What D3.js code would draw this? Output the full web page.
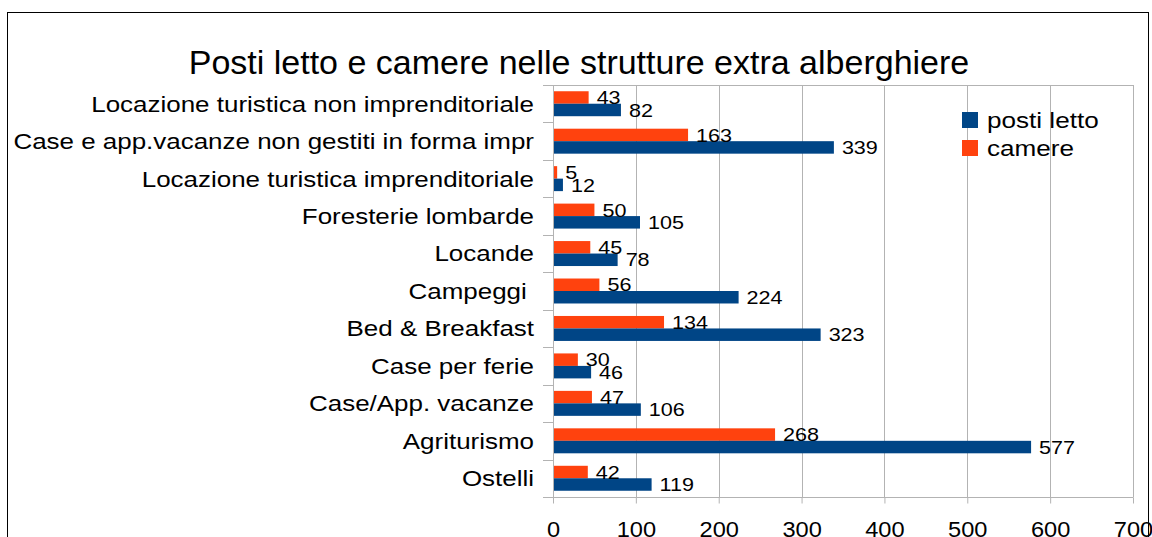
<!DOCTYPE html>
<html>
<head>
<meta charset="utf-8">
<script src="https://cdn.jsdelivr.net/npm/d3@7"></script>
<style>
  body { margin: 0; background: #fff; }
  text { font-family: "Liberation Sans", Arial, sans-serif; fill: #000; }
</style>
</head>
<body>
<div id="chart"></div>
<script>
var categories = [
  "Locazione turistica non imprenditoriale",
  "Case e app.vacanze non gestiti in forma impr",
  "Locazione turistica imprenditoriale",
  "Foresterie lombarde",
  "Locande",
  "Campeggi ",
  "Bed & Breakfast",
  "Case per ferie",
  "Case/App. vacanze",
  "Agriturismo",
  "Ostelli"
];
var postiLetto = [82, 339, 12, 105, 78, 224, 323, 46, 106, 577, 119];
var camere = [43, 163, 5, 50, 45, 56, 134, 30, 47, 268, 42];
var xTicks = [0, 100, 200, 300, 400, 500, 600, 700];
var seriesNames = ["camere", "posti letto"];
var seriesColors = { "posti letto": "#004586", "camere": "#ff420e" };

var width = 1152, height = 537;
var plot = { left: 553, right: 1133, top: 85, bottom: 497 };
var stretch = 1.16; // the text in the original is a bit wide

var svg = d3.select("#chart").append("svg")
    .attr("width", width)
    .attr("height", height);

// outer frame
svg.append("rect")
    .attr("x", 7.5).attr("y", 12.5)
    .attr("width", 1141).attr("height", 600)
    .attr("fill", "none")
    .attr("stroke", "#000")
    .attr("stroke-width", 1);

svg.append("text")
    .attr("x", 579)
    .attr("y", 74)
    .attr("text-anchor", "middle")
    .style("font-size", "34px")
    .text("Posti letto e camere nelle strutture extra alberghiere");

var x = d3.scaleLinear()
    .domain([0, 700])
    .range([plot.left, plot.right]);

var y = d3.scaleBand()
    .domain(categories)
    .range([plot.top, plot.bottom])
    .padding(0);

var ySub = d3.scaleBand()
    .domain(seriesNames)
    .range([0, y.bandwidth()])
    .paddingInner(0)
    .paddingOuter(0.5);

// gridlines
svg.append("g").selectAll("line")
    .data(xTicks.filter(function(d) { return d > 0; }))
    .enter().append("line")
    .attr("x1", function(d) { return Math.round(x(d)) + 0.5; })
    .attr("x2", function(d) { return Math.round(x(d)) + 0.5; })
    .attr("y1", plot.top)
    .attr("y2", plot.bottom)
    .attr("stroke", "#b3b3b3");

// top edge of plot
svg.append("line")
    .attr("x1", plot.left).attr("x2", plot.right + 0.5)
    .attr("y1", plot.top + 0.5).attr("y2", plot.top + 0.5)
    .attr("stroke", "#b3b3b3");

var rows = categories.map(function(c, i) {
  return { cat: c, values: [
    { key: "camere", value: camere[i] },
    { key: "posti letto", value: postiLetto[i] }
  ]};
});

var groups = svg.append("g").selectAll("g")
    .data(rows)
    .enter().append("g")
    .attr("transform", function(d) { return "translate(0," + y(d.cat) + ")"; });

groups.selectAll("rect")
    .data(function(d) { return d.values; })
    .enter().append("rect")
    .attr("x", x(0))
    .attr("y", function(d) { return ySub(d.key); })
    .attr("width", function(d) { return x(d.value) - x(0); })
    .attr("height", ySub.bandwidth())
    .attr("fill", function(d) { return seriesColors[d.key]; });

groups.selectAll("text.val")
    .data(function(d) { return d.values; })
    .enter().append("text")
    .attr("class", "val")
    .attr("transform", function(d) {
      return "translate(" + (x(d.value) + 8) + "," + (ySub(d.key) + ySub.bandwidth() / 2) + ") scale(" + stretch + ",1)";
    })
    .attr("dy", "0.36em")
    .style("font-size", "18.6px")
    .text(function(d) { return d.value; });

// y axis: line, boundary ticks, labels
var yAxis = svg.append("g");
yAxis.append("line")
    .attr("x1", plot.left + 0.5).attr("x2", plot.left + 0.5)
    .attr("y1", plot.top).attr("y2", plot.bottom)
    .attr("stroke", "#b3b3b3");
var bounds = categories.map(function(c) { return y(c); }).concat([plot.bottom]);
yAxis.selectAll("line.tk")
    .data(bounds)
    .enter().append("line")
    .attr("class", "tk")
    .attr("x1", plot.left - 10).attr("x2", plot.left)
    .attr("y1", function(d) { return Math.round(d) + 0.5; })
    .attr("y2", function(d) { return Math.round(d) + 0.5; })
    .attr("stroke", "#b3b3b3");
yAxis.selectAll("text")
    .data(categories)
    .enter().append("text")
    .attr("transform", function(d) {
      return "translate(534," + (y(d) + y.bandwidth() / 2) + ") scale(1.18,1)";
    })
    .attr("dy", "0.36em")
    .attr("text-anchor", "end")
    .style("font-size", "22px")
    .style("white-space", "pre")
    .text(function(d) { return d; });

// x axis
var xAxis = d3.axisBottom(x)
    .tickValues(xTicks)
    .tickSize(6)
    .tickPadding(18)
    .tickFormat(d3.format("d"));

svg.append("g")
    .attr("transform", "translate(0," + (plot.bottom + 0.5) + ")")
    .call(function(g) {
      g.call(xAxis);
      g.select(".domain").remove();
      g.selectAll(".tick line").attr("stroke", "#b3b3b3");
      g.selectAll(".tick text")
        .style("font-size", "22.5px")
        .style("font-family", "'Liberation Sans', Arial, sans-serif")
        .attr("transform", "scale(1.05,1)")
        .attr("fill", "#000");
    });
svg.append("line")
    .attr("x1", plot.left - 10).attr("x2", plot.right + 0.5)
    .attr("y1", plot.bottom + 0.5).attr("y2", plot.bottom + 0.5)
    .attr("stroke", "#b3b3b3");

// legend
var legend = svg.append("g")
    .attr("transform", "translate(962,112)");
var legItems = legend.selectAll("g")
    .data(["posti letto", "camere"])
    .enter().append("g")
    .attr("transform", function(d, i) { return "translate(0," + (i * 28) + ")"; });
legItems.append("rect")
    .attr("width", 16).attr("height", 16)
    .attr("fill", function(d) { return seriesColors[d]; });
legItems.append("text")
    .attr("transform", "translate(25,8) scale(" + stretch + ",1)")
    .attr("dy", "0.36em")
    .style("font-size", "22.5px")
    .text(function(d) { return d; });
</script>
</body>
</html>
